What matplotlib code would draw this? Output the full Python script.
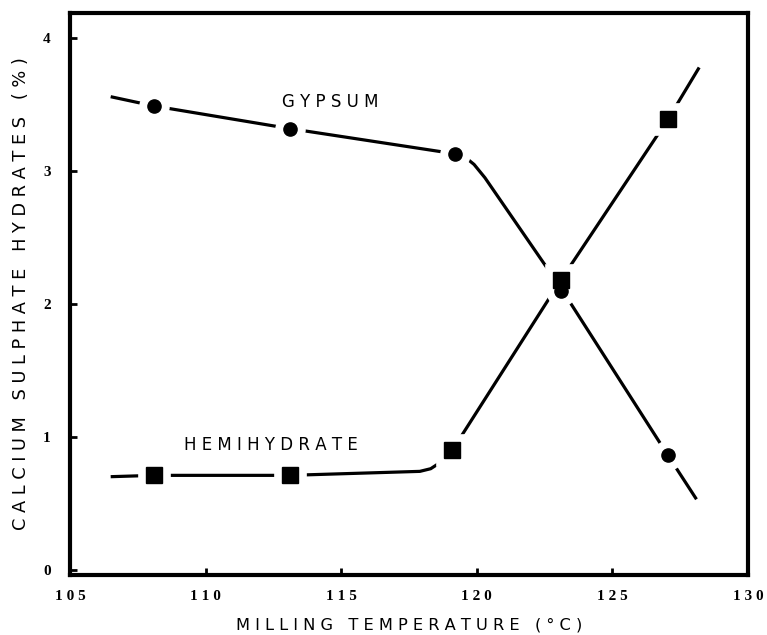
import matplotlib
matplotlib.use('Agg')
import matplotlib.pyplot as plt

# measured points (milling temperature, %)
gyp_t = [108.1, 113.1, 119.2, 123.1, 127.05]
gyp_v = [3.49, 3.32, 3.13, 2.10, 0.86]
hemi_t = [108.1, 113.1, 119.1, 123.1, 127.05]
hemi_v = [0.71, 0.71, 0.90, 2.18, 3.39]

# hand drawn trend curves
gyp_curve_t = [106.5, 108.1, 113.1, 119.2, 119.6, 119.9, 120.3, 123.1, 127.05, 128.1]
gyp_curve_v = [3.56, 3.49, 3.32, 3.13, 3.10, 3.05, 2.95, 2.12, 0.86, 0.53]
hemi_curve_t = [106.5, 108.1, 113.1, 117.9, 118.3, 118.6, 119.1, 123.1, 127.05, 128.2]
hemi_curve_v = [0.70, 0.71, 0.71, 0.74, 0.76, 0.80, 0.90, 2.18, 3.39, 3.78]

xticks = [105, 110, 115, 120, 125, 130]
yticks = [0, 1, 2, 3, 4]

fig = plt.figure(figsize=(7.67, 6.35), dpi=100)
ax = fig.add_axes([70/767, 60/635, 678/767, 562/635])

ax.plot(gyp_curve_t, gyp_curve_v, color='black', lw=2.3, solid_capstyle='butt', zorder=2)
ax.plot(hemi_curve_t, hemi_curve_v, color='black', lw=2.3, solid_capstyle='butt', zorder=2)
# white halo makes the breaks in the line around each point
ax.plot(gyp_t, gyp_v, 'o', ms=9, mfc='white', mec='white', mew=13, zorder=3)
ax.plot(hemi_t, hemi_v, 's', ms=12, mfc='white', mec='white', mew=12, zorder=3)
ax.plot(gyp_t, gyp_v, 'o', ms=9.5, color='black', zorder=5)
ax.plot(hemi_t, hemi_v, 's', ms=11.5, color='black', zorder=4)

ax.text(114.6, 3.52, 'G Y P S U M', ha='center', va='center', fontsize=12)
ax.text(112.4, 0.94, 'H E M I H Y D R A T E', ha='center', va='center', fontsize=12)

ax.set_xlim(105, 130)
ax.set_ylim(-0.04, 4.19)
ax.set_xticks(xticks)
ax.set_xticklabels([' '.join(str(t)) for t in xticks],
                   family=['Liberation Serif', 'DejaVu Serif'], fontweight='bold', fontsize=11)
ax.set_yticks(yticks)
ax.set_yticklabels([str(t) for t in yticks],
                   family=['Liberation Serif', 'DejaVu Serif'], fontweight='bold', fontsize=11)
ax.tick_params(direction='in', length=5, width=2)
ax.tick_params(axis='x', pad=11)
ax.tick_params(axis='y', pad=14)

for s in ax.spines.values():
    s.set_linewidth(3)

ax.set_xlabel('M I L L I N G   T E M P E R A T U R E   ( \u00b0 C )', fontsize=11.7, labelpad=10)
ax.set_ylabel('C A L C I U M   S U L P H A T E   H Y D R A T E S   ( % )', fontsize=12.8, labelpad=9)

fig.savefig('out.png', dpi=100)
